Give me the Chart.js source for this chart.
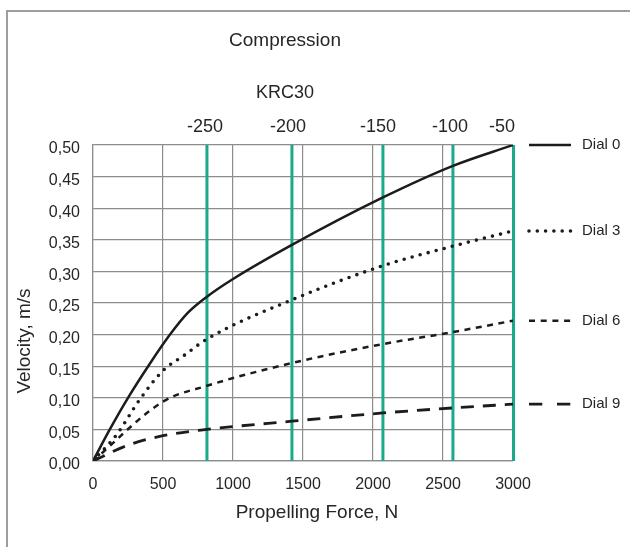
<!DOCTYPE html>
<html>
<head>
<meta charset="utf-8">
<script src="https://cdn.jsdelivr.net/npm/chart.js@4.4.1/dist/chart.umd.min.js"></script>
<style>
  body { margin: 0; background: #fff; }
  #caixa { position: relative; width: 630px; height: 547px; overflow: hidden; }
  #moldura { position: absolute; left: 6px; top: 10px; width: 700px; height: 600px;
             border-left: 2px solid #9d9d9d; border-top: 2px solid #9d9d9d; pointer-events: none; }
</style>
</head>
<body>
<div id="caixa">
  <canvas id="grafico"></canvas>
  <div id="moldura"></div>
</div>
<script>
// curvas (forca N -> velocidade m/s)
const dial0Force = [0, 120, 250, 400, 550, 680, 814, 1000, 1421, 2071, 2571, 3000];
const dial0Vel   = [0, 0.05, 0.10, 0.152, 0.20, 0.235, 0.26, 0.288, 0.342, 0.417, 0.467, 0.50];
const dial3Force = [0, 170, 330, 500, 650, 814, 1421, 2071, 2571, 3000];
const dial3Vel   = [0, 0.042, 0.096, 0.143, 0.167, 0.193, 0.255, 0.309, 0.340, 0.364];
const dial6Force = [0, 500, 814, 1421, 2071, 2571, 3000];
const dial6Vel   = [0, 0.094, 0.119, 0.155, 0.185, 0.204, 0.222];
const dial9Force = [0, 250, 500, 814, 1421, 2071, 2571, 3000];
const dial9Vel   = [0, 0.025, 0.040, 0.050, 0.063, 0.076, 0.084, 0.090];
const dialLabels = ['Dial 0', 'Dial 3', 'Dial 6', 'Dial 9'];

// linhas verdes (cliques KRC30) e rotulos do eixo de cima
const clickForce = [814, 1421, 2071, 2571, 3004];
const clickLabelForce = [800, 1393, 2036, 2550, 2921];
const clickLabels = ['-250', '-200', '-150', '-100', '-50'];

const corTexto = '#262626';
const corGrade = '#8c8c8c';
const corLinha = '#1c1c1c';
const corVerde = '#19a98b';
const fonte = "'Liberation Sans', Arial, sans-serif";

Chart.defaults.font.family = fonte;
Chart.defaults.color = corTexto;

const pares = (xs, ys) => xs.map((x, i) => ({ x: x, y: ys[i] }));

const estilosDial = [
  { dash: [], cap: 'butt', width: 2.5, legendDash: [] },
  { dash: [0, 8.3], cap: 'round', width: 3.6, legendDash: [0, 8.3] },
  { dash: [6, 5.5], cap: 'butt', width: 2.5, legendDash: [6, 5.7] },
  { dash: [13, 9], cap: 'butt', width: 2.8, legendDash: [13.3, 14.7] }
];
const dadosDial = [
  pares(dial0Force, dial0Vel),
  pares(dial3Force, dial3Vel),
  pares(dial6Force, dial6Vel),
  pares(dial9Force, dial9Vel)
];

const datasets = dadosDial.map((d, i) => ({
  label: dialLabels[i],
  data: d,
  borderColor: corLinha,
  borderWidth: estilosDial[i].width,
  borderDash: estilosDial[i].dash,
  borderCapStyle: estilosDial[i].cap,
  cubicInterpolationMode: 'monotone',
  tension: 0.4,
  pointRadius: 0,
  order: 1,
  dial: i
}));
clickForce.forEach(f => {
  datasets.push({
    data: [{ x: f, y: 0 }, { x: f, y: 0.5 }],
    borderColor: corVerde,
    borderWidth: 3,
    pointRadius: 0,
    clip: false,
    order: 10
  });
});

// titulos dos eixos e legenda a direita
const rotulosPlugin = {
  id: 'rotulos',
  afterDraw(chart) {
    const { ctx, chartArea: area } = chart;
    const y = chart.scales.y;
    ctx.save();
    ctx.fillStyle = corTexto;
    ctx.textAlign = 'center';
    ctx.textBaseline = 'middle';
    ctx.font = '19px ' + fonte;
    ctx.fillText('Propelling Force, N', (area.left + area.right) / 2 + 14, area.bottom + 52);
    ctx.save();
    ctx.translate(25, (area.top + area.bottom) / 2 + 38);
    ctx.rotate(-Math.PI / 2);
    ctx.fillText('Velocity, m/s', 0, 0);
    ctx.restore();

    ctx.font = '15px ' + fonte;
    ctx.textAlign = 'left';
    chart.data.datasets.forEach(ds => {
      if (ds.dial === undefined) return;
      const est = estilosDial[ds.dial];
      const py = y.getPixelForValue(ds.data[ds.data.length - 1].y);
      ctx.strokeStyle = corLinha;
      ctx.lineWidth = est.width;
      ctx.lineCap = est.cap;
      ctx.setLineDash(est.legendDash);
      ctx.beginPath();
      ctx.moveTo(area.right + 16, py);
      ctx.lineTo(area.right + 58, py);
      ctx.stroke();
      ctx.fillText(ds.label, area.right + 69, py);
    });
    ctx.restore();
  }
};

const ctx = document.getElementById('grafico').getContext('2d');
const grafico = new Chart(ctx, {
  type: 'line',
  data: { datasets: datasets },
  options: {
    responsive: true,
    maintainAspectRatio: false,
    animation: false,
    layout: { padding: { left: 0, right: 60, top: 0, bottom: 0 } },
    plugins: {
      legend: { display: false },
      tooltip: { enabled: false },
      title: { display: true, text: 'Compression', color: corTexto,
               font: { size: 19, weight: 'normal' }, padding: { top: 29, bottom: 15 } },
      subtitle: { display: true, text: 'KRC30', color: corTexto,
                  font: { size: 18, weight: 'normal' }, padding: { top: 15, bottom: 0 } }
    },
    scales: {
      x: {
        type: 'linear', position: 'bottom', min: 0, max: 3000,
        ticks: { stepSize: 500, padding: 14, maxRotation: 0, font: { size: 16 }, color: corTexto,
                 callback: v => String(v) },
        grid: { color: corGrade, lineWidth: 1.2, drawTicks: false },
        border: { color: corGrade, width: 1.2 },
        afterFit: s => { s.height = 86; }
      },
      xTopo: {
        type: 'linear', position: 'top', min: 0, max: 3000,
        afterBuildTicks: s => { s.ticks = clickLabelForce.map(v => ({ value: v })); },
        ticks: { autoSkip: false, maxRotation: 0, padding: 7, font: { size: 18 }, color: corTexto,
                 callback: (v, i) => clickLabels[i] },
        grid: { display: false, drawTicks: false },
        border: { display: false },
        afterFit: s => { s.height = 41.6; }
      },
      y: {
        min: 0, max: 0.5,
        ticks: { stepSize: 0.05, padding: 13, labelOffset: 4, font: { size: 16 }, color: corTexto,
                 callback: v => v.toFixed(2).replace('.', ',') },
        grid: { color: corGrade, lineWidth: 1.2, drawTicks: false },
        border: { color: corGrade, width: 1.2 },
        afterFit: s => { s.width = 93; }
      },
      yDireita: {
        position: 'right', min: 0, max: 0.5,
        ticks: { display: false },
        grid: { display: false, drawTicks: false },
        border: { display: false },
        afterFit: s => { s.width = 57; }
      }
    }
  },
  plugins: [rotulosPlugin]
});
</script>
</body>
</html>
